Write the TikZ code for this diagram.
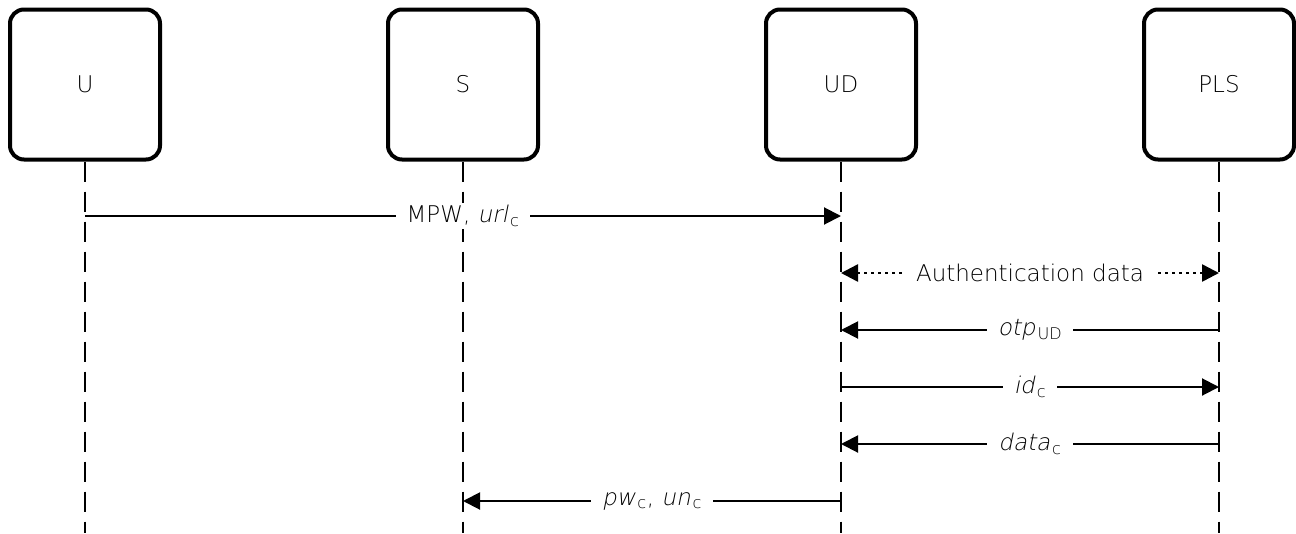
\documentclass[tikz,border=0pt]{standalone}
\usepackage{fontspec}
\setmainfont{DejaVu Sans ExtraLight}[ItalicFont={DejaVu Sans ExtraLight}, ItalicFeatures={FakeSlant=0.2}]
\usetikzlibrary{arrows.meta}
\newcommand{\lowidx}[1]{\kern2pt\textsubscript{#1}}

\begin{document}
\begin{tikzpicture}[x=1pt, y=-1pt,
    every node/.style={font=\fontsize{23}{27}\selectfont},
    actor/.style={draw, rounded corners=14pt, line width=4pt, minimum size=150pt, inner sep=0pt},
    life/.style={line width=2.6pt, dash pattern=on 20pt off 10pt},
    msg/.style={line width=2pt, -{Triangle[length=17pt, width=17pt]}},
    authmsg/.style={line width=2.5pt, dash pattern=on 2.5pt off 4.5pt, {Triangle[length=17pt, width=17pt]}-{Triangle[length=17pt, width=17pt]}},
    lbl/.style={fill=white, inner xsep=11pt, inner ysep=2pt}]
    \useasboundingbox (0,0) rectangle (1296,533);
    % Uczestnicy

    \node[actor] (user) at (85, 84.5) {U};
    \node[actor] (server) at (463, 84.5) {S};
    \node[actor] (device) at (841, 84.5) {UD};
    \node[actor] (pls) at (1219, 84.5) {PLS};
    \coordinate (userend) at (85, 533);
    \coordinate (serverend) at (463, 533);
    \coordinate (deviceend) at (841, 533);
    \coordinate (plsend) at (1219, 533);
    % Linie zycia

    \draw[life] (user.south) -- (userend);
    \draw[life] (server.south) -- (serverend);
    \draw[life] (device.south) -- (deviceend);
    \draw[life] (pls.south) -- (plsend);
    % Punkty komunikatow

    \coordinate (u1) at (85, 216);
    \coordinate (d1) at (841, 216);
    \coordinate (d2) at (841, 273);
    \coordinate (p2) at (1219, 273);
    \coordinate (d3) at (841, 330);
    \coordinate (p3) at (1219, 330);
    \coordinate (d4) at (841, 387);
    \coordinate (p4) at (1219, 387);
    \coordinate (d5) at (841, 444);
    \coordinate (p5) at (1219, 444);
    \coordinate (s6) at (463, 501);
    \coordinate (d6) at (841, 501);
    % Komunikaty

    \draw[msg] (u1) -- node[lbl] {MPW, \textit{url}\lowidx{c}} (d1);
    \draw[authmsg] (d2) -- node[lbl] {Authentication data} (p2);
    \draw[msg] (p3) -- node[lbl] {\textit{otp}\lowidx{UD}} (d3);
    \draw[msg] (d4) -- node[lbl] {\textit{id}\lowidx{c}} (p4);
    \draw[msg] (p5) -- node[lbl] {\textit{data}\lowidx{c}} (d5);
    \draw[msg] (d6) -- node[lbl] {\textit{pw}\lowidx{c}, \textit{un}\lowidx{c}} (s6);

\end{tikzpicture}
\end{document}
